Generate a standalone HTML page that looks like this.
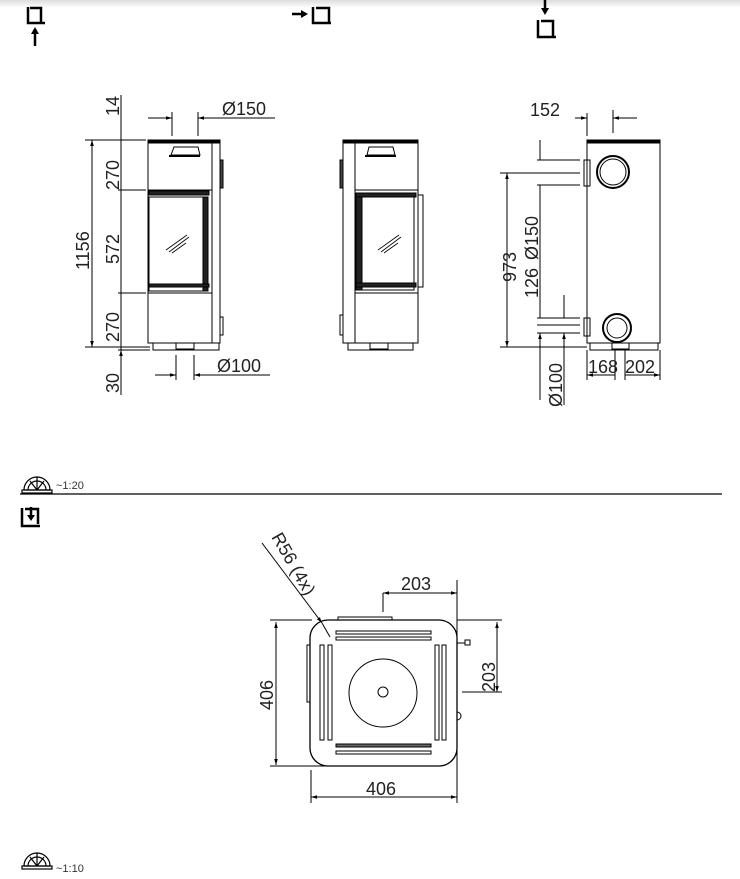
<!DOCTYPE html>
<html><head><meta charset="utf-8"><style>
html,body{margin:0;padding:0;background:#fff;}
svg{display:block;font-family:"Liberation Sans","DejaVu Sans",sans-serif;}
</style></head><body>
<svg width="740" height="879" viewBox="0 0 740 879" xmlns="http://www.w3.org/2000/svg">
<defs>
<linearGradient id="g" x1="0" y1="0" x2="0" y2="1"><stop offset="0" stop-color="#dcdcdc"/><stop offset="1" stop-color="#fff"/></linearGradient>
<marker id="a" viewBox="0 0 10 10" refX="10" refY="5" markerWidth="6" markerHeight="6" markerUnits="userSpaceOnUse" orient="auto-start-reverse"><path d="M0,2 L10,5 L0,8z" fill="#000"/></marker>
</defs>
<rect x="0" y="0" width="740" height="8" fill="url(#g)"/>
<g fill="none" stroke="#000" stroke-width="2.5">
<path d="M28,7 V23 H45 M30,8 H41 V22"/>
<path d="M313,7 V23 H331 M316,8 H329 V22"/>
<path d="M538,20 V37 H556 M541,21 H553 V36"/>
<path d="M35,46 V34 M292,14 H302 M545,0 V9"/>
</g>
<g fill="#000">
<path d="M31,34 L35,27 L39,34Z"/>
<path d="M301,10 L308,14 L301,18Z"/>
<path d="M541,8 L545,15 L549,8Z"/>
</g>

<g stroke="#000" fill="none" stroke-width="1">
<!-- VIEW 1 -->
<rect x="148" y="140" width="64" height="203"/>
<rect x="212" y="140" width="8" height="203"/>
<rect x="148" y="140" width="72" height="3" fill="#000"/>
<rect x="153" y="343" width="66" height="7"/>
<rect x="176" y="343" width="18" height="6"/>
<rect x="220" y="160" width="3" height="28" fill="#444"/>
<rect x="220" y="317" width="3" height="18"/>
<path d="M171,155 L174,147 H198 L200,155 Z"/>
<path d="M169,156 H200" stroke-width="2"/>
<rect x="148" y="190" width="64" height="103"/>
<rect x="149" y="197" width="55" height="94"/>
<rect x="203" y="197" width="5" height="94" fill="#222"/>
<rect x="149" y="191" width="60" height="4" fill="#222"/>
<rect x="149" y="284" width="60" height="3" fill="#222"/>
<path d="M166,250 L187,235 M169,252 L189,237 M172,253 L186,243" stroke-width=".8"/>
<path d="M92,140 V347" marker-start="url(#a)" marker-end="url(#a)"/>
<path d="M85,140 H146 M85,347 H150 M118,190 H146 M118,293 H146 M118,350 H150"/>
<path d="M121,95 V395"/>
<path d="M121,125 V140 M121,190 V175 M121,195 V208 M121,288 V276 M121,298 V310 M121,343 V330 M121,360 V350" marker-end="url(#a)"/>
<path d="M148,118 H172 M198,118 H275"/>
<path d="M160,118 H172" marker-end="url(#a)"/>
<path d="M210,118 H198" marker-end="url(#a)"/>
<path d="M172,112 V136 M198,112 V136"/>
<path d="M155,375 H176 M194,375 H270"/>
<path d="M165,375 H176" marker-end="url(#a)"/>
<path d="M205,375 H194" marker-end="url(#a)"/>
<path d="M176,355 V380 M194,355 V380"/>

<!-- VIEW 2 -->
<rect x="343" y="140" width="12" height="203"/>
<rect x="355" y="140" width="63" height="203"/>
<rect x="343" y="140" width="75" height="3" fill="#000"/>
<rect x="348" y="343" width="65" height="7"/>
<rect x="370" y="343" width="18" height="6"/>
<rect x="340" y="160" width="3" height="28" fill="#444"/>
<rect x="340" y="315" width="3" height="20"/>
<path d="M367,155 L369,147 H393 L395,155 Z"/>
<path d="M365,156 H396" stroke-width="2"/>
<rect x="355" y="190" width="63" height="103"/>
<rect x="357" y="195" width="57" height="95"/>
<rect x="356" y="194" width="6" height="96" fill="#222"/>
<rect x="356" y="193" width="60" height="4" fill="#222"/>
<rect x="356" y="283" width="60" height="4" fill="#222"/>
<rect x="418" y="195" width="5" height="92"/>
<path d="M378,250 L399,235 M381,252 L401,237 M384,253 L398,243" stroke-width=".8"/>

<!-- VIEW 3 -->
<rect x="587" y="140" width="73" height="203"/>
<rect x="587" y="140" width="73" height="3" fill="#000"/>
<rect x="590" y="343" width="68" height="7"/>
<rect x="612" y="343" width="17" height="6"/>
<circle cx="613" cy="172" r="16" stroke-width="2"/>
<circle cx="613" cy="172" r="13"/>
<rect x="584" y="160" width="6" height="26"/>
<circle cx="617" cy="328" r="14" stroke-width="2"/>
<circle cx="617" cy="328" r="10"/>
<rect x="584" y="318" width="6" height="18"/>
<path d="M575,118 H587 M613,118 H637"/>
<path d="M575,118 H587" marker-end="url(#a)"/>
<path d="M630,118 H613" marker-end="url(#a)"/>
<path d="M587,113 V136 M613,110 V133"/>
<path d="M507,173 V347" marker-start="url(#a)" marker-end="url(#a)"/>
<path d="M500,173 H580 M537,160 H580 M537,185 H580 M500,347 H587 M537,318 H580 M537,325 H580 M537,333 H580"/>
<path d="M540,140 V160 M540,185 V318 M540,333 V400"/>
<path d="M540,148 V160 M540,198 V185 M540,306 V318 M540,345 V333" marker-end="url(#a)"/>
<path d="M564,295 V318 M564,333 V405"/>
<path d="M564,303 V318 M564,345 V333" marker-end="url(#a)"/>
<path d="M587,350 V380 M615,350 V380 M625,350 V380 M660,350 V380"/>
<path d="M587,375 H615 M625,375 H660" marker-start="url(#a)" marker-end="url(#a)"/>

<path d="M20,494 H722" stroke-width="1.2"/>

<!-- PLAN -->
<rect x="310" y="620" width="147" height="146" rx="18" stroke-width="1.3"/>
<rect x="338" y="617" width="54" height="3"/>
<rect x="307" y="645" width="3" height="57"/>
<path d="M457,643 H465"/><rect x="465" y="640" width="5" height="5"/>
<path d="M457,712 a4,4 0 1 1 0,8"/>
<rect x="336" y="631" width="95" height="3"/>
<rect x="336" y="637" width="95" height="3"/>
<rect x="336" y="744" width="95" height="3" fill="#666"/>
<rect x="336" y="751" width="95" height="3"/>
<rect x="320" y="645" width="4" height="95"/>
<rect x="328" y="645" width="4" height="95"/>
<rect x="435" y="645" width="4" height="95"/>
<rect x="442" y="645" width="4" height="95"/>
<circle cx="383" cy="693" r="34"/>
<circle cx="383" cy="692" r="5"/>
<path d="M276,622 V765" marker-start="url(#a)" marker-end="url(#a)"/>
<path d="M270,620 H312 M270,766 H330"/>
<path d="M311,770 V803 M457,580 V803"/>
<path d="M311,797 H457" marker-start="url(#a)" marker-end="url(#a)"/>
<path d="M383,593 V612"/>
<path d="M383,593 H457" marker-start="url(#a)" marker-end="url(#a)"/>
<path d="M457,620 H502 M462,692 H502"/>
<path d="M497,622 V692" marker-start="url(#a)" marker-end="url(#a)"/>
<path d="M262,543 L322,623" marker-end="url(#a)"/>
<path d="M322,623 L330,637"/>
</g>

<g font-size="18" fill="#222">
<text x="222" y="115">Ø150</text>
<text x="217" y="372">Ø100</text>
<text x="530" y="116">152</text>
<text x="588" y="373">168</text>
<text x="625" y="373">202</text>
<text x="401" y="590">203</text>
<text x="366" y="795">406</text>
<text transform="translate(89,270) rotate(-90)">1156</text>
<text transform="translate(119,116) rotate(-90)">14</text>
<text transform="translate(119,190) rotate(-90)">270</text>
<text transform="translate(119,264) rotate(-90)">572</text>
<text transform="translate(119,342) rotate(-90)">270</text>
<text transform="translate(119,393) rotate(-90)">30</text>
<text transform="translate(516,282) rotate(-90)">973</text>
<text transform="translate(538,260) rotate(-90)">Ø150</text>
<text transform="translate(538,298) rotate(-90)">126</text>
<text transform="translate(562,407) rotate(-90)">Ø100</text>
<text transform="translate(273,710) rotate(-90)">406</text>
<text transform="translate(495,692) rotate(-90)">203</text>
<text transform="translate(271,537) rotate(60)">R56 (4x)</text>
</g>

<g fill="none" stroke="#000" stroke-width="1.2">
<path d="M24,490 A13,13 0 0 1 50,490 Z M28,490 A9,9 0 0 1 46,490 M37,477 V490 M30,481 L37,490 M44,481 L37,490"/>
<rect x="22" y="490" width="30" height="3"/>
<path d="M24,866 A13,13 0 0 1 50,866 Z M28,866 A9,9 0 0 1 46,866 M37,853 V866 M30,857 L37,866 M44,857 L37,866"/>
<rect x="22" y="866" width="30" height="3"/>
<path d="M22,508 V526 H40 M25,509 H38 V524" stroke-width="2.5"/>
<path d="M31,507 V516" stroke-width="2.5"/>
</g>
<path d="M27,515 L31,521 L35,515Z" fill="#000"/>
<text x="56" y="489" font-size="11" fill="#333">~1:20</text>
<text x="56" y="872" font-size="11" fill="#333">~1:10</text>
</svg>
</body></html>
